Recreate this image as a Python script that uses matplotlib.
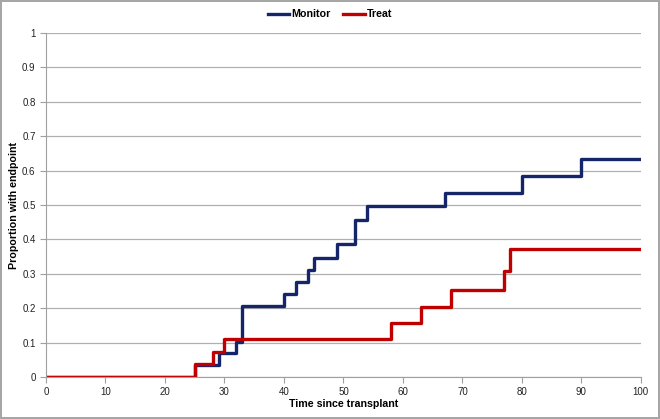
import matplotlib.pyplot as plt

plt.rcParams['font.family'] = ['Liberation Sans', 'DejaVu Sans']

# Kaplan-Meier style step data (cumulative proportion with endpoint)
monitor_t = [0, 25, 29, 32, 33, 40, 42, 44, 45, 49, 52, 54, 67, 80, 90, 100]
monitor_p = [0, 0.035, 0.069, 0.103, 0.206, 0.241, 0.276, 0.31, 0.347, 0.386, 0.455, 0.496, 0.536, 0.583, 0.634, 0.634]
treat_t = [0, 25, 28, 30, 58, 63, 68, 77, 78, 100]
treat_p = [0, 0.037, 0.074, 0.111, 0.156, 0.203, 0.253, 0.309, 0.373, 0.373]

xticks = list(range(0, 101, 10))
yticks = [0, 0.1, 0.2, 0.3, 0.4, 0.5, 0.6, 0.7, 0.8, 0.9, 1]
yticklabels = ['0', '0.1', '0.2', '0.3', '0.4', '0.5', '0.6', '0.7', '0.8', '0.9', '1']

fig = plt.figure(figsize=(6.6, 4.19), dpi=100, edgecolor='#a6a6a6', linewidth=1.5)
ax = fig.add_axes([0.0697, 0.1002, 0.9013, 0.8210])

ax.step(monitor_t, monitor_p, where='post', color='#14256a', lw=2.4, label='Monitor')
ax.step(treat_t, treat_p, where='post', color='#c00000', lw=2.4, label='Treat')

ax.set_xlim(0, 100)
ax.set_ylim(0, 1)
ax.set_xticks(xticks)
ax.set_yticks(yticks)
ax.set_yticklabels(yticklabels)
ax.yaxis.grid(True, color='#b0b0b0', lw=0.9)
ax.set_axisbelow(True)
for s in ['top', 'right']:
    ax.spines[s].set_visible(False)
for s in ['left', 'bottom']:
    ax.spines[s].set_color('#a0a0a0')
ax.tick_params(axis='both', colors='#a0a0a0', labelcolor='#222222', labelsize=7, length=4, direction='out')

ax.set_xlabel('Time since transplant', fontsize=7.7, fontweight='bold', labelpad=1)
ax.set_ylabel('Proportion with endpoint', fontsize=7.7, fontweight='bold', labelpad=2)

fig.legend(loc='center', bbox_to_anchor=(0.5, 0.966), ncol=2, frameon=False,
           prop={'size': 7.7, 'weight': 'bold'}, handlelength=2.0, handletextpad=0.2,
           columnspacing=1.2)

fig.savefig('out.png', dpi=100)
